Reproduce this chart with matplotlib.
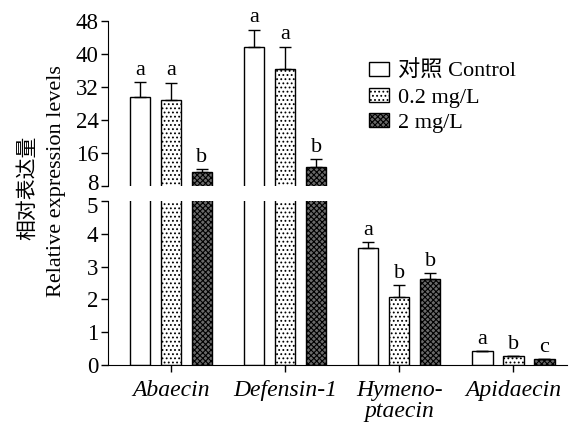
import numpy as np
import matplotlib
matplotlib.use("Agg")
import matplotlib.pyplot as plt
import matplotlib.transforms as mtransforms
from matplotlib.patches import Patch

plt.rcParams['font.family'] = ['Liberation Serif', 'Noto Sans CJK SC']
plt.rcParams['hatch.linewidth'] = 0.8

genes = ['Abaecin', 'Defensin-1', 'Hymeno-\nptaecin', 'Apidaecin']
groups = ['对照 Control', '0.2 mg/L', '2 mg/L']
control = [29.6, 41.7, 3.57, 0.43]
low = [28.8, 36.4, 2.07, 0.27]
high = [11.4, 12.6, 2.62, 0.18]
control_err = [3.6, 4.1, 0.18, 0.01]
low_err = [4.2, 5.3, 0.37, 0.02]
high_err = [0.7, 1.9, 0.18, 0.01]
control_sig = ['a', 'a', 'a', 'a']
low_sig = ['a', 'a', 'b', 'b']
high_sig = ['b', 'b', 'b', 'c']

series = [(control, control_err, control_sig),
          (low, low_err, low_sig),
          (high, high_err, high_sig)]
styles = [dict(facecolor='white', hatch=None),
          dict(facecolor='white', hatch='....'),
          dict(facecolor='#6a6a6a', hatch='xxxxxx')]

fig = plt.figure(figsize=(5.75, 4.26), dpi=100)
ax_top = fig.add_axes([0.188, 0.563, 0.798, 0.388])
ax_bot = fig.add_axes([0.188, 0.143, 0.798, 0.385])

x = np.arange(len(genes))
width = 0.18
pitch = 0.272

for ax in (ax_top, ax_bot):
    for i, (vals, errs, sig) in enumerate(series):
        pos = x + (i - 1) * pitch
        ax.bar(pos, vals, width, edgecolor='black', linewidth=1.0, **styles[i])
        ax.errorbar(pos, vals, yerr=[np.zeros(len(vals)), errs], fmt='none',
                    ecolor='black', elinewidth=1.0, capsize=4, capthick=1.0)
    ax.set_xlim(-0.55, 3.47)
    ax.spines['top'].set_visible(False)
    ax.spines['right'].set_visible(False)
    ax.tick_params(axis='y', labelsize=16.5, direction='out', length=5, width=1, pad=2)

ax_top.set_ylim(8, 48)
ax_top.set_yticks([8, 16, 24, 32, 40, 48])
ax_top.spines['bottom'].set_visible(False)
ax_top.tick_params(axis='x', bottom=False, labelbottom=False)

ax_bot.set_ylim(0, 5)
ax_bot.set_yticks([0, 1, 2, 3, 4, 5])
ax_bot.set_xticks(x)
ax_bot.set_xticklabels(genes, fontsize=17, style='italic', linespacing=1.0)
ax_bot.tick_params(axis='x', direction='out', length=5, width=1, pad=6)

# nudge the labels at the break apart a little
up = mtransforms.ScaledTranslation(0, 3 / 72, fig.dpi_scale_trans)
down = mtransforms.ScaledTranslation(0, -3 / 72, fig.dpi_scale_trans)
lab8 = ax_top.get_yticklabels()[0]
lab8.set_transform(lab8.get_transform() + up)
lab5 = ax_bot.get_yticklabels()[-1]
lab5.set_transform(lab5.get_transform() + down)

# significance letters
for i, (vals, errs, sig) in enumerate(series):
    pos = x + (i - 1) * pitch
    for p, v, e, s in zip(pos, vals, errs, sig):
        top = v + e
        if top > 8:
            ax_top.text(p, top + 0.6, s, ha='center', va='bottom', fontsize=16)
        else:
            ax_bot.text(p, top + 0.06, s, ha='center', va='bottom', fontsize=16)

handles = [Patch(edgecolor='black', linewidth=1.0, label=g, **st)
           for g, st in zip(groups, styles)]
ax_top.legend(handles=handles, loc='upper left', bbox_to_anchor=(0.55, 0.81),
              frameon=False, fontsize=16, handlelength=0.9, handleheight=0.6,
              handletextpad=0.4, labelspacing=0.25, borderaxespad=0)

fig.text(0.047, 0.56, '相对表达量', rotation=90, ha='center', va='center',
         fontsize=15, family=['Noto Sans CJK SC', 'DejaVu Sans'])
fig.text(0.099, 0.575, 'Relative expression levels', rotation=90,
         ha='center', va='center', fontsize=16)

fig.savefig('out.png', dpi=100)
